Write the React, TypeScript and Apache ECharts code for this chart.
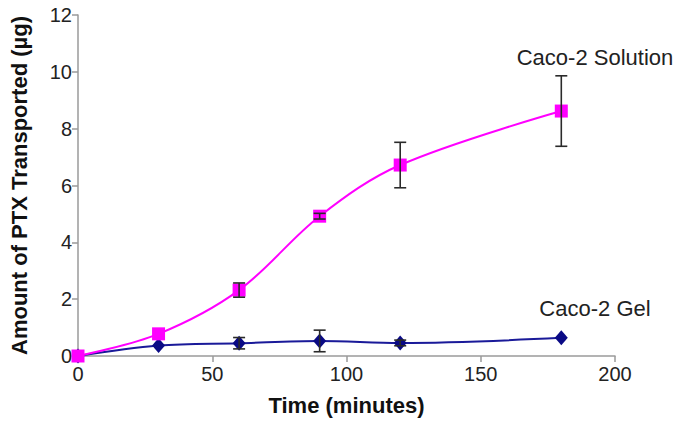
import React, { useEffect, useRef } from "react";
import * as echarts from "echarts";

// Sampling times (minutes)
const times = [0, 30, 60, 90, 120, 180];

// Caco-2 solution: mean amount transported (µg) and SD
const solutionMean = [0, 0.78, 2.32, 4.92, 6.72, 8.62];
const solutionSd = [0, 0.05, 0.25, 0.1, 0.8, 1.24];

// Caco-2 gel: mean amount transported (µg) and SD
const gelMean = [0, 0.37, 0.45, 0.53, 0.46, 0.64];
const gelSd = [0, 0.03, 0.2, 0.38, 0.1, 0.05];

const xTicks = [0, 50, 100, 150, 200];
const yTicks = [0, 2, 4, 6, 8, 10, 12];

const FONT = "'Liberation Sans', Arial, Helvetica, sans-serif";

function errorBarSeries(mean: number[], sd: number[]) {
  const data = times.map((t, i) => [t, mean[i] - sd[i], mean[i] + sd[i]]);
  return {
    type: "custom",
    z: 5,
    silent: true,
    renderItem: (params: any, api: any) => {
      const x = api.value(0);
      const lo = api.coord([x, api.value(1)]);
      const hi = api.coord([x, api.value(2)]);
      const half = 6;
      const style = { stroke: "#2a2a2a", lineWidth: 1.6 };
      if (Math.abs(hi[1] - lo[1]) < 3) return { type: "group", children: [] };
      return {
        type: "group",
        children: [
          { type: "line", shape: { x1: lo[0], y1: lo[1], x2: hi[0], y2: hi[1] }, style },
          { type: "line", shape: { x1: lo[0] - half, y1: lo[1], x2: lo[0] + half, y2: lo[1] }, style },
          { type: "line", shape: { x1: hi[0] - half, y1: hi[1], x2: hi[0] + half, y2: hi[1] }, style },
        ],
      };
    },
    encode: { x: 0, y: [1, 2] },
    data,
  };
}

export default function App() {
  const ref = useRef<HTMLDivElement>(null);

  useEffect(() => {
    document.body.style.margin = "0";
    if (!ref.current) return;
    const chart = echarts.init(ref.current, null, { renderer: "svg" });
    const axisLabel = { color: "#222222", fontSize: 20, fontFamily: FONT };
    const titleStyle = { color: "#111111", fontSize: 22, fontWeight: "bold", fontFamily: FONT };
    chart.setOption({
      animation: false,
      backgroundColor: "#ffffff",
      grid: { left: 76, right: 65, top: 15, bottom: 65 },
      xAxis: {
        type: "value",
        min: xTicks[0],
        max: xTicks[xTicks.length - 1],
        interval: xTicks[1] - xTicks[0],
        name: "Time (minutes)",
        nameLocation: "middle",
        nameGap: 38,
        nameTextStyle: titleStyle,
        axisLine: { lineStyle: { color: "#9a9a9a", width: 1.5 } },
        axisTick: { show: true, length: 6, lineStyle: { color: "#9a9a9a", width: 1.5 } },
        axisLabel: { ...axisLabel, margin: 8 },
        splitLine: { show: false },
      },
      yAxis: {
        type: "value",
        min: yTicks[0],
        max: yTicks[yTicks.length - 1],
        interval: yTicks[1] - yTicks[0],
        name: "Amount of PTX Transported (µg)",
        nameLocation: "middle",
        nameGap: 48,
        nameTextStyle: titleStyle,
        axisLine: { show: true, lineStyle: { color: "#9a9a9a", width: 1.5 } },
        axisTick: { show: true, length: 6, lineStyle: { color: "#9a9a9a", width: 1.5 } },
        axisLabel: { ...axisLabel, margin: 6 },
        splitLine: { show: false },
      },
      graphic: [
        {
          type: "text",
          x: 595,
          y: 57,
          style: {
            text: "Caco-2 Solution",
            fill: "#222222",
            font: `22px ${FONT}`,
            textAlign: "center",
            textVerticalAlign: "middle",
          },
        },
        {
          type: "text",
          x: 595,
          y: 308,
          style: {
            text: "Caco-2 Gel",
            fill: "#222222",
            font: `22px ${FONT}`,
            textAlign: "center",
            textVerticalAlign: "middle",
          },
        },
      ],
      series: [
        errorBarSeries(solutionMean, solutionSd),
        errorBarSeries(gelMean, gelSd),
        {
          name: "Caco-2 Gel",
          type: "line",
          z: 3,
          smooth: 0.35,
          data: times.map((t, i) => [t, gelMean[i]]),
          symbol: "diamond",
          symbolSize: [13, 15],
          itemStyle: { color: "#0a0a85" },
          lineStyle: { color: "#1a1a99", width: 2 },
        },
        {
          name: "Caco-2 Solution",
          type: "line",
          z: 4,
          smooth: 0.35,
          data: times.map((t, i) => [t, solutionMean[i]]),
          symbol: "rect",
          symbolSize: 13,
          itemStyle: { color: "#ff00ff" },
          lineStyle: { color: "#ff00ff", width: 2 },
        },
      ],
    });
    return () => chart.dispose();
  }, []);

  return <div ref={ref} style={{ width: 680, height: 421 }} />;
}
